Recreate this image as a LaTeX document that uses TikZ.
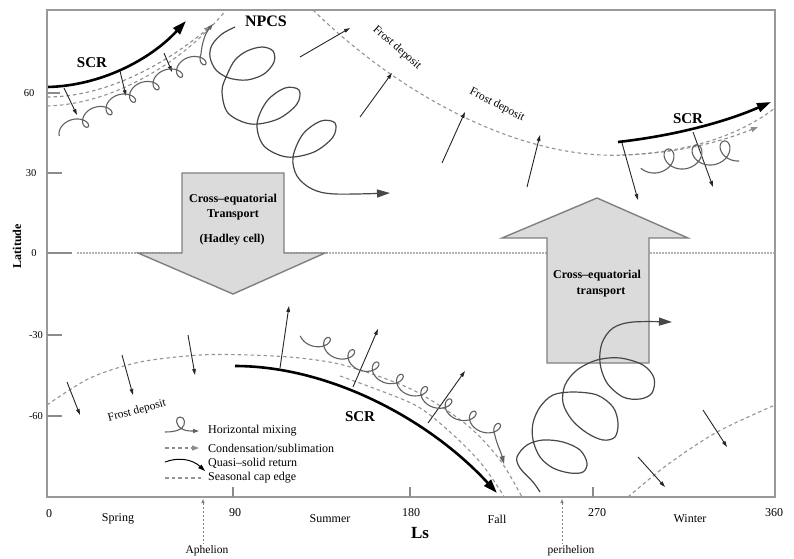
\documentclass[tikz,border=0pt]{standalone}
\usepackage{fontspec}
\setmainfont{Liberation Serif}
\usetikzlibrary{arrows.meta}
\begin{document}
\begin{tikzpicture}[x=1pt,y=-1pt,
  plotframe/.style={draw=black!40, line width=1.4pt},
  axtick/.style={draw=black!45, line width=1.1pt},
  capedge/.style={draw=black!42, line width=1.1pt, dash pattern=on 3.5pt off 3pt},
  condens/.style={draw=black!45, line width=1.1pt, dash pattern=on 3.5pt off 3pt, -{Triangle[length=7pt,width=5pt]}},
  equator/.style={draw=black!30, line width=1.2pt, dash pattern=on 1.5pt off 1.5pt},
  scr/.style={draw=black, line width=2.6pt, -{Triangle[length=14pt,width=9pt]}},
  thinarrow/.style={draw=black!85, line width=0.9pt, -{Triangle[length=6pt,width=3.6pt]}},
  spiral/.style={draw=black!72, line width=1.2pt, -{Triangle[length=13pt,width=8pt]}},
  loops/.style={draw=black!62, line width=1.1pt},
  bigarrow/.style={draw=black!50, line width=1.4pt, fill=black!14},
  txt/.style={font=\fontsize{12}{13}\selectfont, inner sep=0pt},
  small/.style={font=\fontsize{10.5}{12}\selectfont, inner sep=0pt},
  frost/.style={font=\fontsize{11.5}{12}\selectfont, inner sep=0pt},
  boldtxt/.style={font=\fontsize{12}{13}\selectfont\bfseries, inner sep=0pt},
  bigbold/.style={font=\fontsize{15}{16}\selectfont\bfseries, inner sep=0pt}
]
\useasboundingbox (0,0) rectangle (794,558);
\fill[white] (0,0) rectangle (794,558);

% equator
\draw[equator] (77,253) -- (775,253);

% cross-equatorial arrows
\draw[bigarrow] (182,173) -- (284,173) -- (284,253) -- (325,253) -- (233,294) -- (138,253) -- (182,253) -- cycle;
\draw[bigarrow] (547,363) -- (547,238) -- (502,238) -- (597,198) -- (688,238) -- (649,238) -- (649,363) -- cycle;
\node[boldtxt] (ct1) at (233,200) {Cross--equatorial};
\node[boldtxt] (ct2) at (233,215) {Transport};
\node[boldtxt] (ct3) at (232,240) {(Hadley cell)};
\node[boldtxt] (ct4) at (597,276) {Cross--equatorial};
\node[boldtxt] (ct5) at (601,292) {transport};

% seasonal cap edges
\draw[capedge] (47,106) .. controls (120,104) and (190,55) .. (226,10);
\draw[capedge] (313,10) .. controls (400,95) and (520,160) .. (625,155) .. controls (690,152) and (740,135) .. (775,108);
\draw[capedge] plot[smooth] coordinates {(47,405) (90,378) (140,362) (200,355) (250,355) (300,358) (347,366) (413,390) (467,425) (500,460) (522,497)};
\draw[capedge] plot[smooth] coordinates {(628,497) (667,465) (717,432) (775,405)};
\draw[capedge] plot[smooth] coordinates {(340,376) (413,404) (450,432) (480,462) (500,490) (504,497)};

% condensation arrows
\draw[condens] (47,97) .. controls (110,97) and (170,60) .. (211,26);
\draw[condens] (622,155) .. controls (680,153) and (720,142) .. (758,127);

% SCR thick arrows
\draw[scr] (47,87) .. controls (100,86) and (150,60) .. (186,21);
\draw[scr] (618,142) .. controls (680,135) and (730,120) .. (771,102);
\draw[scr] (235,366) .. controls (330,366) and (430,420) .. (497,493);
\node[bigbold] (scr1) at (92,63) {SCR};
\node[bigbold] (scr2) at (688,119) {SCR};
\node[bigbold] (scr3) at (360,417) {SCR};
\node[bigbold, font=\fontsize{16}{17}\selectfont\bfseries] (npcs) at (266,21) {NPCS};

% thin arrows
\draw[thinarrow] (64,88) -- (77,115);
\draw[thinarrow] (120,71) -- (126,96);
\draw[thinarrow] (164,53) -- (172,72);
\draw[thinarrow] (300,57) -- (350,28);
\draw[thinarrow] (360,117) -- (392,73);
\draw[thinarrow] (442,163) -- (465,112);
\draw[thinarrow] (527,187) -- (540,135);
\draw[thinarrow] (622,143) -- (638,200);
\draw[thinarrow] (693,132) -- (713,187);
\draw[thinarrow] (280,368) -- (289,306);
\draw[thinarrow] (353,387) -- (378,329);
\draw[thinarrow] (428,423) -- (465,371);
\draw[thinarrow] (67,382) -- (80,415);
\draw[thinarrow] (122,355) -- (133,395);
\draw[thinarrow] (188,335) -- (195,375);
\draw[thinarrow] (638,457) -- (665,487);
\draw[thinarrow] (703,410) -- (727,447);

% frost deposit labels
\node[frost, rotate=-41] (fd1) at (397,48) {Frost deposit};
\node[frost, rotate=-27] (fd2) at (497,105) {Frost deposit};
\node[frost, rotate=15] (fd3) at (137,411) {Frost deposit};

% small loop chains (horizontal mixing)
\draw[loops, -{Triangle[length=6pt,width=4pt]}] plot[domain=-135:2070, samples=320, smooth] ({73.8+23.5*(\x/360)+8*sin(\x)}, {126.25-12.5*(\x/360)-7*cos(\x)}) .. controls (202,42) and (206,32) .. (213,24);
\draw[loops, -{Triangle[length=8pt,width=5pt]}] plot[domain=-90:2790, samples=400, smooth] ({314.85+24.3*(\x/360)+8.5*sin(\x)}, {339+12.3*(\x/360)+7.5*cos(\x)}) .. controls (497,445) and (501,452) .. (504,464);
\draw[loops] plot[domain=-60:1080, samples=200, smooth] ({655+28*(\x/360)+11*sin(\x)}, {162-4*(\x/360)+11*cos(\x)});

% large spirals
\draw[spiral] plot[smooth, tension=0.55] coordinates {(235,27) (222,34) (212,45) (210,57) (216,70) (229,78) (247,80) (264,74) (274,62) (273,51) (262,47) (247,51) (235,60) (227,75) (222,91) (228,113) (251,124) (278,119) (297,104) (299,90) (285,88) (267,101) (257,124) (264,146) (287,157) (314,152) (333,137) (335,123) (321,121) (303,134) (293,157) (297,176) (312,189) (335,194) (390,193)};
\draw[spiral] plot[smooth, tension=0.55] coordinates {(540,492) (533,482) (520,468) (517,457) (527,445) (543,440) (563,442) (580,450) (587,463) (583,472) (570,473) (553,468) (540,457) (533,440) (533,423) (540,407) (553,395) (573,392) (597,395) (613,407) (618,423) (615,437) (603,440) (587,433) (572,420) (563,403) (565,385) (577,370) (597,360) (620,358) (643,365) (654,378) (652,393) (640,399) (623,397) (607,383) (600,363) (602,343) (613,328) (633,322) (672,322)};

% legend
\draw[loops, -{Triangle[length=6pt,width=4pt]}] (165,432) .. controls (172,432) and (178,431) .. (182,428) .. controls (186,424) and (185,417) .. (180,417) .. controls (175,417) and (175,425) .. (182,429) .. controls (186,431) and (190,431) .. (199,431);
\draw[condens] (165,448) -- (199,448);
\draw[draw=black, line width=1pt, -{Triangle[length=7pt,width=4.5pt]}] (165,462) .. controls (178,457) and (192,459) .. (205,471);
\draw[capedge] (165,478) -- (204,478);
\node[txt, anchor=west] (lg1) at (208,431) {Horizontal mixing};
\node[txt, anchor=west] (lg2) at (208,448) {Condensation/sublimation};
\node[txt, anchor=west] (lg3) at (208,463) {Quasi--solid return};
\node[txt, anchor=west] (lg4) at (208,478) {Seasonal cap edge};

% frame and axes
\draw[plotframe] (47,10) rectangle (775,497);
\draw[axtick] (47,93) -- (60,93);
\draw[axtick] (47,173) -- (62,173);
\draw[axtick] (47,253) -- (72,253);
\draw[axtick] (47,335) -- (62,335);
\draw[axtick] (47,416) -- (62,416);
\draw[axtick] (233,497) -- (233,487);
\draw[axtick] (410,497) -- (410,487);
\draw[axtick] (593,497) -- (593,487);
\node[small] (y60) at (29,93) {60};
\node[small] (y30) at (31,173) {30};
\node[small] (y0) at (34,253) {0};
\node[small] (ym30) at (36,335) {-30};
\node[small] (ym60) at (36,416) {-60};
\node[boldtxt, rotate=90] (ylab) at (17,246) {Latitude};
\node[txt] (x0) at (49,514) {0};
\node[txt] (x90) at (235,513) {90};
\node[txt] (x180) at (411,513) {180};
\node[txt] (x270) at (597,513) {270};
\node[txt] (x360) at (774,513) {360};
\node[txt] (spring) at (118,519) {Spring};
\node[txt] (summer) at (330,519) {Summer};
\node[txt] (fall) at (497,519) {Fall};
\node[txt] (winter) at (690,519) {Winter};
\node[font=\fontsize{17}{18}\selectfont\bfseries, inner sep=0pt] (ls) at (420,533) {Ls};
\draw[draw=black!50, line width=0.9pt, dash pattern=on 2pt off 2pt, {Triangle[length=4pt,width=3pt]}-] (203,499) -- (203,544);
\draw[draw=black!50, line width=0.9pt, dash pattern=on 2pt off 2pt, {Triangle[length=4pt,width=3pt]}-] (562,499) -- (562,544);
\node[frost] (aph) at (207,551) {Aphelion};
\node[frost] (peri) at (571,551) {perihelion};
\end{tikzpicture}
\end{document}
